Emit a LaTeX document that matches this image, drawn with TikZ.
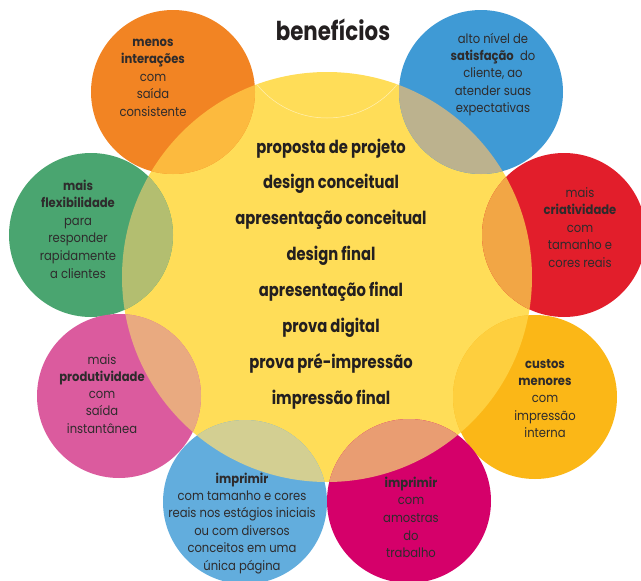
\documentclass[tikz,border=0pt]{standalone}
\usepackage{fontspec}
\newfontfamily\listfont[FakeStretch=0.82]{Poppins}
\newfontfamily\circfont[FakeStretch=0.89]{Poppins}
\definecolor{cYellow}{HTML}{FFDD58}
\definecolor{cOrange}{HTML}{F28423}
\definecolor{cBlue}{HTML}{3F9AD5}
\definecolor{cRed}{HTML}{E21E2B}
\definecolor{cGold}{HTML}{FBB717}
\definecolor{cMagenta}{HTML}{D5006A}
\definecolor{cLBlue}{HTML}{62ADDD}
\definecolor{cPink}{HTML}{DB5B9E}
\definecolor{cGreen}{HTML}{4AA570}
\definecolor{vOrange}{HTML}{FCBA3E}
\definecolor{vBlue}{HTML}{BCB28E}
\definecolor{vRed}{HTML}{F2A645}
\definecolor{vGold}{HTML}{FECF3E}
\definecolor{vMagenta}{HTML}{E99D72}
\definecolor{vLBlue}{HTML}{D3CF92}
\definecolor{vPink}{HTML}{E9AA80}
\definecolor{vGreen}{HTML}{B3BE70}
\definecolor{txtdark}{HTML}{231F20}
\definecolor{txtgray}{HTML}{2E2B2C}
\tikzset{
  listtxt/.style={font=\listfont\bfseries\fontsize{18}{20}\selectfont, text=txtdark, anchor=base, inner sep=0pt},
  titletxt/.style={font=\listfont\bfseries\fontsize{26}{28}\selectfont, text=txtdark, anchor=base, inner sep=0pt},
  circtxt/.style={font=\circfont\fontsize{13}{16}\selectfont, text=txtgray, anchor=base, inner sep=0pt},
}
\newcommand\bubble[4]{% center, radius, fill, overlap fill
  \fill[#3] #1 circle[radius=#2];
  \begin{scope}
    \clip #1 circle[radius=#2];
    \fill[#4] (327,277) circle[radius=205pt];
  \end{scope}}
\begin{document}
\begin{tikzpicture}[x=1pt,y=-1pt]
\useasboundingbox (0,0) rectangle (641,581);
\fill[white] (0,0) rectangle (641,581);
% central circle
\coordinate (C) at (327,277);
\fill[cYellow] (C) circle[radius=205pt];
% outer circles with overlaps
\bubble{(173,92)}{82pt}{cOrange}{vOrange}
\bubble{(481,92)}{82pt}{cBlue}{vBlue}
\bubble{(91,235)}{82pt}{cGreen}{vGreen}
\bubble{(564,235)}{82pt}{cRed}{vRed}
\bubble{(119,396)}{82pt}{cPink}{vPink}
\bubble{(535,397)}{82pt}{cGold}{vGold}
\bubble{(245,502)}{82pt}{cLBlue}{vLBlue}
\bubble{(409,501)}{82pt}{cMagenta}{vMagenta}
% faint arc
\begin{scope}
  \clip (C) circle[radius=205pt];
  \draw[white, opacity=0.55, line width=0.5pt] (327,28) circle[radius=90pt];
\end{scope}
% title
\node[titletxt] (title) at (333,40) {benefícios};
% list
\foreach \t [count=\i] in {{proposta de projeto},{design conceitual},{apresentação conceitual},{design final},{apresentação final},{prova digital},{prova pré-impressão},{impressão final}}
  \node[listtxt] (l\i) at (331,{153+35.92*(\i-1)}) {\t};
% circle texts
\foreach \t [count=\i] in {{\textbf{menos}},{\textbf{interações}},{com},{saída},{consistente}}
  \node[circtxt] (o\i) at (153,{46+17.6*(\i-1)}) {\t};
\foreach \t [count=\i] in {{alto nível de},{\textbf{satisfação}\ \ do},{cliente, ao},{atender suas},{expectativas}}
  \node[circtxt] (b\i) at (493,{43+17.4*(\i-1)}) {\t};
\foreach \t [count=\i] in {{\textbf{mais}},{\textbf{flexibilidade}},{para},{responder},{rapidamente},{a clientes}}
  \node[circtxt] (g\i) at (78,{190+17.6*(\i-1)}) {\t};
\foreach \t [count=\i] in {{mais},{\textbf{criatividade}},{com},{tamanho e},{cores reais}}
  \node[circtxt] (r\i) at (580,{197+17.5*(\i-1)}) {\t};
\foreach \t [count=\i] in {{mais},{\textbf{produtividade}},{com},{saída},{instantânea}}
  \node[circtxt] (p\i) at (102,{364+17.3*(\i-1)}) {\t};
\foreach \t [count=\i] in {{\textbf{custos}},{\textbf{menores}},{com},{impressão},{interna}}
  \node[circtxt] (y\i) at (545,{368+17.4*(\i-1)}) {\t};
\foreach \t [count=\i] in {{\textbf{imprimir}},{com tamanho e cores},{reais nos estágios iniciais},{ou com diversos},{conceitos em uma},{única página}}
  \node[circtxt] (lb\i) at (242,{483+17.4*(\i-1)}) {\t};
\foreach \t [count=\i] in {{\textbf{imprimir}},{com},{amostras},{do},{trabalho}}
  \node[circtxt] (m\i) at (411,{487+17.7*(\i-1)}) {\t};
\end{tikzpicture}
\end{document}
